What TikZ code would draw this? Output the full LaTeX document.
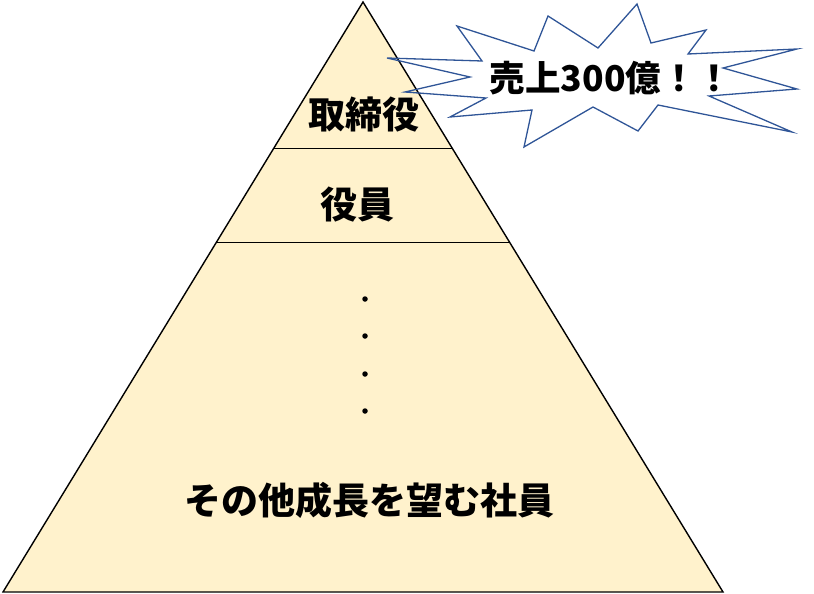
\documentclass[tikz,border=0pt]{standalone}
\usepackage{fontspec}
\newfontfamily\jp{Noto Sans CJK JP}
\definecolor{pyr}{HTML}{FFF2CC}
\definecolor{burst}{HTML}{2F5597}
\tikzset{
  lbl/.style={font=\jp\bfseries\fontsize{37}{42}\selectfont, inner sep=0pt, text=black},
  blbl/.style={font=\jp\bfseries\fontsize{35.5}{42}\selectfont, inner sep=0pt, text=black},
  tier/.style={line width=1pt, draw=black},
  dotmark/.style={fill=black, circle, inner sep=0pt, minimum size=5.5pt}
}
\begin{document}
\begin{tikzpicture}[x=1pt,y=-1pt]
\useasboundingbox (0,0) rectangle (814,594);
% pyramid
\coordinate (apex) at (363,2);
\coordinate (bl) at (3,592);
\coordinate (br) at (723,592);
\fill[pyr] (apex) -- (br) -- (bl) -- cycle;
\coordinate (l1) at (273.9,148);
\coordinate (r1) at (452.1,148);
\coordinate (l2) at (216.6,242);
\coordinate (r2) at (509.4,242);
\draw[tier] (l1) -- (r1);
\draw[tier] (l2) -- (r2);
\draw[line width=1.4pt, line join=miter] (apex) -- (br) -- (bl) -- cycle;
% labels
\node[lbl] (t1) at (364,115) {取締役};
\node[lbl] (t2) at (357,205) {役員};
\node[lbl] (t3) at (369,500) {その他成長を望む社員};
\foreach \y [count=\i] in {299,336,374,411} \node[dotmark] (d\i) at (365,\y) {};
% starburst
\draw[burst, line width=1.3pt, line join=miter]
 (637,4) -- (651,43) -- (706,30) -- (688,54) -- (797,49) -- (723,68)
 -- (797,89) -- (709,96) -- (792,132) -- (658,105) -- (638,131) -- (593,107)
 -- (524,147) -- (532,110) -- (450,117) -- (486,98) -- (405,92) -- (470,77)
 -- (387,58) -- (482,61) -- (457,26) -- (534,51) -- (548,16) -- (598,48) -- cycle;
\node[blbl] (t4) at (611,78) {売上300億！！};
\end{tikzpicture}
\end{document}
